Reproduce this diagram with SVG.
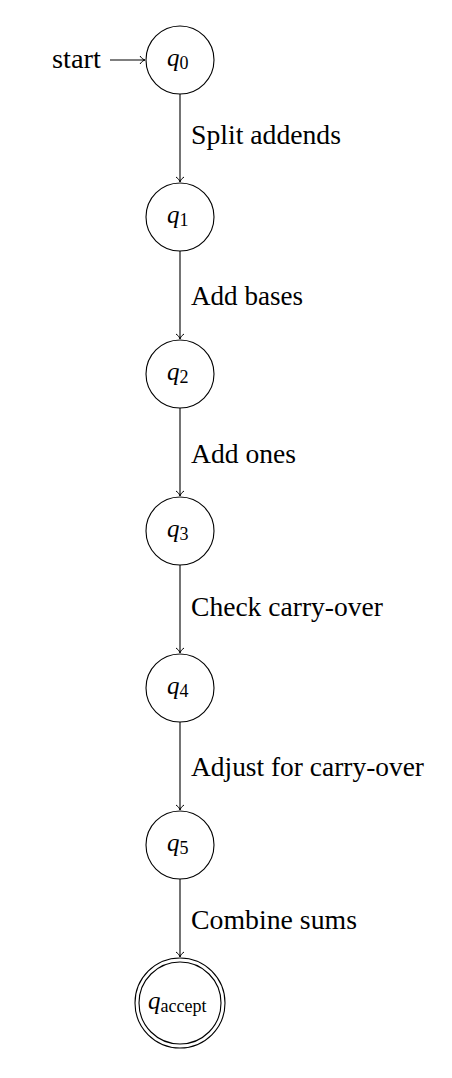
<svg xmlns="http://www.w3.org/2000/svg" width="452" height="1078" viewBox="0 0 452 1078">
<style>
.st{fill:#fff;stroke:#000;stroke-width:1.1}
.lbl{font-family:"Liberation Serif",serif;font-size:27px;fill:#000}
.q{font-family:"Liberation Serif",serif;font-size:25px;font-style:italic;fill:#000}
.sub{font-family:"Liberation Serif",serif;font-size:18px;font-style:normal;fill:#000}
.e{stroke:#000;stroke-width:1.1;fill:none;marker-end:url(#ah)}
</style>
<defs>
<marker id="ah" viewBox="-6 -5 8 10" refX="0" refY="0" markerWidth="8" markerHeight="10" markerUnits="userSpaceOnUse" orient="auto">
<path d="M-5,-4 C-3,-1 -1,-0.3 0,0 C-1,0.3 -3,1 -5,4" fill="none" stroke="#000" stroke-width="1"/>
</marker>
</defs>
<g id="connectors">
<path class="e" d="M110,60 H145"/>
<path class="e" d="M180,94 V182"/>
<path class="e" d="M180,251 V339"/>
<path class="e" d="M180,408 V496"/>
<path class="e" d="M180,565 V653"/>
<path class="e" d="M180,722 V810"/>
<path class="e" d="M180,879 V957"/>
<text class="lbl" x="52" y="68" textLength="49" lengthAdjust="spacingAndGlyphs">start</text>
<text class="lbl" x="191" y="144" textLength="150" lengthAdjust="spacingAndGlyphs">Split addends</text>
<text class="lbl" x="191" y="305" textLength="112" lengthAdjust="spacingAndGlyphs">Add bases</text>
<text class="lbl" x="191" y="463" textLength="105" lengthAdjust="spacingAndGlyphs">Add ones</text>
<text class="lbl" x="191" y="616" textLength="192" lengthAdjust="spacingAndGlyphs">Check carry-over</text>
<text class="lbl" x="191" y="776" textLength="233" lengthAdjust="spacingAndGlyphs">Adjust for carry-over</text>
<text class="lbl" x="191" y="929" textLength="166" lengthAdjust="spacingAndGlyphs">Combine sums</text>
</g>
<g id="q0"><circle class="st" cx="180" cy="60" r="34"/><text class="q" x="167" y="66">q<tspan class="sub" dy="3">0</tspan></text></g>
<g id="q1"><circle class="st" cx="180" cy="217" r="34"/><text class="q" x="167" y="223">q<tspan class="sub" dy="3">1</tspan></text></g>
<g id="q2"><circle class="st" cx="180" cy="374" r="34"/><text class="q" x="167" y="380">q<tspan class="sub" dy="3">2</tspan></text></g>
<g id="q3"><circle class="st" cx="180" cy="531" r="34"/><text class="q" x="167" y="537">q<tspan class="sub" dy="3">3</tspan></text></g>
<g id="q4"><circle class="st" cx="180" cy="688" r="34"/><text class="q" x="167" y="694">q<tspan class="sub" dy="3">4</tspan></text></g>
<g id="q5"><circle class="st" cx="180" cy="845" r="34"/><text class="q" x="167" y="851">q<tspan class="sub" dy="3">5</tspan></text></g>
<g id="qaccept"><circle class="st" cx="180" cy="1003" r="45"/><circle class="st" cx="180" cy="1003" r="41"/><text class="q" x="148" y="1009">q<tspan class="sub" dy="3">accept</tspan></text></g>
</svg>
